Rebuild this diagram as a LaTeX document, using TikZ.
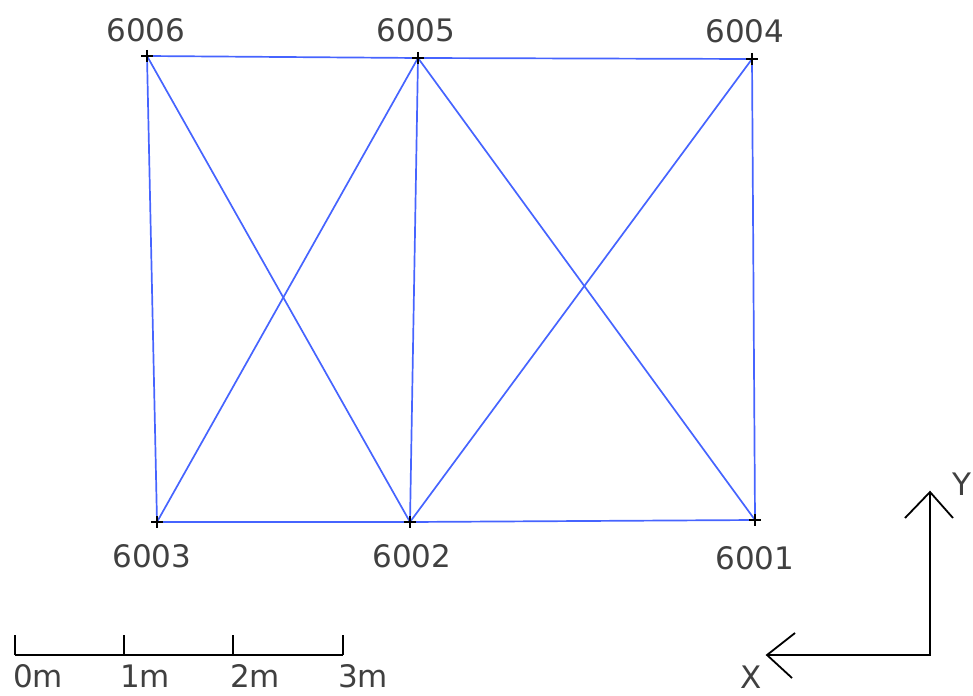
\documentclass[tikz,border=0pt]{standalone}
\usepackage{fontspec}
\setmainfont{DejaVu Sans}
\usetikzlibrary{calc}
\definecolor{mBlue}{RGB}{70,100,255}
\definecolor{mGrey}{HTML}{404040}

\begin{document}
\begin{tikzpicture}[x=1pt, y=-1pt,
  every node/.style={font=\fontsize{31}{31}\selectfont, text=mGrey, inner sep=0pt},
  member/.style={draw=mBlue, line width=1.7pt},
  cross/.style={draw=black, line width=1.2pt},
  axis/.style={draw=black, line width=1.8pt},
  scalelbl/.style={anchor=west},
]
  \useasboundingbox (0,0) rectangle (973,695);

  % survey points
  \coordinate (p6006) at (147,56);
  \coordinate (p6005) at (418,58);
  \coordinate (p6004) at (752,59);
  \coordinate (p6003) at (157,522);
  \coordinate (p6002) at (410,522);
  \coordinate (p6001) at (755,520);

  % members
  \draw[member] (p6006) -- (p6005) -- (p6004) -- (p6001) -- (p6002) -- (p6003) -- cycle;
  \draw[member] (p6005) -- (p6002);
  \draw[member] (p6006) -- (p6002);
  \draw[member] (p6005) -- (p6003);
  \draw[member] (p6005) -- (p6001);
  \draw[member] (p6004) -- (p6002);

  % point crosses
  \foreach \p in {p6001,p6002,p6003,p6004,p6005,p6006}
    \draw[cross] ($(\p)+(-6,0)$) -- ($(\p)+(6,0)$) ($(\p)+(0,-6)$) -- ($(\p)+(0,6)$);

  % point labels
  \node (l6006) at (146,30) {6006};
  \node (l6005) at (416,30) {6005};
  \node (l6004) at (745,31) {6004};
  \node (l6003) at (152,556) {6003};
  \node (l6002) at (412,556) {6002};
  \node (l6001) at (755,558) {6001};

  % scale bar
  \coordinate (s0) at (15,655);
  \coordinate (s1) at (124,655);
  \coordinate (s2) at (233,655);
  \coordinate (s3) at (343,655);
  \draw[axis, line width=1.5pt] (s0) -- (s3);
  \foreach \s in {s0,s1,s2,s3}
    \draw[axis, line width=1.5pt] (\s) -- ($(\s)+(0,-20)$);
  \node[scalelbl] (m0) at (13,676) {0m};
  \node[scalelbl] (m1) at (120,676) {1m};
  \node[scalelbl] (m2) at (230,676) {2m};
  \node[scalelbl] (m3) at (338,676) {3m};

  % axes
  \coordinate (o) at (930,655);
  \coordinate (ytip) at (930,492);
  \coordinate (xtip) at (767,655);
  \draw[axis] (ytip) -- (o) -- (xtip);
  \draw[axis] ($(ytip)+(-25,26)$) -- (ytip) -- ($(ytip)+(23,26)$);
  \draw[axis] ($(xtip)+(28,-22)$) -- (xtip) -- ($(xtip)+(25,23)$);
  \node (ylbl) at (962,484) {Y};
  \node (xlbl) at (751,677) {X};
\end{tikzpicture}
\end{document}
